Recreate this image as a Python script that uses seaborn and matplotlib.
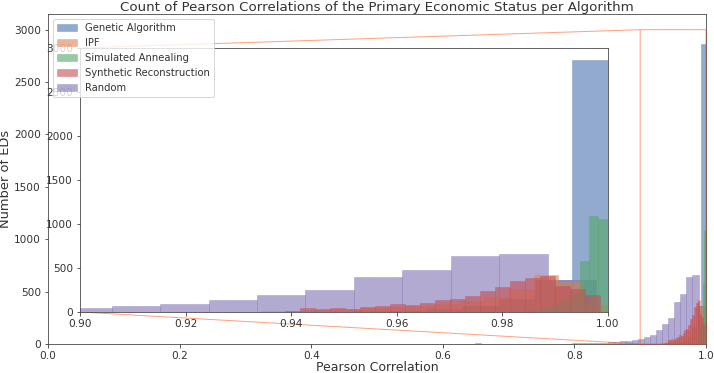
import numpy as np
import matplotlib.pyplot as plt
import seaborn as sns

# histogram bin edges / counts per algorithm
ga_edges = [0.9448, 0.9517, 0.9586, 0.9655, 0.9724, 0.9793, 0.9862, 0.9931, 1.0]
ga_counts = [4, 8, 15, 30, 70, 150, 360, 2864]

ipf_edges = [0.9295, 0.9342, 0.9389, 0.9436, 0.9483, 0.9530, 0.9577, 0.9624,
             0.9671, 0.9718, 0.9765, 0.9812, 0.9859, 0.9906, 0.9953, 1.0]
ipf_counts = [5, 10, 15, 22, 30, 40, 55, 70, 90, 120, 170, 260, 420, 350, 80]

sa_edges = [0.9841, 0.9859, 0.9876, 0.9894, 0.9912, 0.9929, 0.9947, 0.9965, 0.9982, 1.0]
sa_counts = [10, 20, 40, 80, 150, 200, 580, 1090, 1053]

sr_edges = [0.9360, 0.9388, 0.9417, 0.9445, 0.9473, 0.9502, 0.9530, 0.9559,
            0.9587, 0.9615, 0.9644, 0.9672, 0.9701, 0.9729, 0.9757, 0.9786,
            0.9814, 0.9843, 0.9871, 0.9899, 0.9928, 0.9956, 0.9985]
sr_counts = [5, 14, 42, 34, 45, 34, 53, 68, 87, 80, 102, 133, 148, 178, 242,
             280, 352, 390, 413, 290, 260, 190]

rand_edges = [0.6490, 0.6582, 0.6674, 0.6765, 0.6857, 0.6949, 0.7041, 0.7133,
              0.7224, 0.7316, 0.7408, 0.7500, 0.7592, 0.7683, 0.7775, 0.7867,
              0.7959, 0.8050, 0.8142, 0.8234, 0.8326, 0.8418, 0.8509, 0.8601,
              0.8693, 0.8785, 0.8876, 0.8968, 0.9060, 0.9152, 0.9244, 0.9335,
              0.9427, 0.9519, 0.9610, 0.9702, 0.9794, 0.9886, 0.9978]
rand_counts = [8, 0, 1, 0, 1, 0, 1, 1, 0, 2, 1, 2, 2, 3, 3, 4, 6, 7, 8, 10,
               12, 14, 16, 20, 26, 32, 38, 45, 63, 90, 138, 188, 250, 403,
               480, 640, 655, 362]

algorithms = ["Genetic Algorithm", "IPF", "Simulated Annealing",
              "Synthetic Reconstruction", "Random"]
series = {
    "Genetic Algorithm": (ga_edges, ga_counts),
    "IPF": (ipf_edges, ipf_counts),
    "Simulated Annealing": (sa_edges, sa_counts),
    "Synthetic Reconstruction": (sr_edges, sr_counts),
    "Random": (rand_edges, rand_counts),
}
palette = dict(zip(algorithms, sns.color_palette("deep", 5)))
draw_order = ["Random", "Genetic Algorithm", "IPF", "Simulated Annealing",
              "Synthetic Reconstruction"]

plt.rcParams["text.color"] = "0.2"
plt.rcParams["axes.labelcolor"] = "0.2"
plt.rcParams["xtick.color"] = "0.2"
plt.rcParams["ytick.color"] = "0.2"
plt.rcParams["axes.edgecolor"] = "0.25"
plt.rcParams["xtick.labelsize"] = 10.5
plt.rcParams["ytick.labelsize"] = 10.5


def draw_hists(ax, labels=True):
    for name in draw_order:
        edges, counts = series[name]
        e = np.array(edges)
        mids = (e[:-1] + e[1:]) / 2
        sns.histplot(x=mids, weights=counts, bins=list(edges), color=palette[name],
                     alpha=0.6, edgecolor=(*palette[name], 0.6), linewidth=0.5,
                     ax=ax, label=name if labels else None)


fig = plt.figure(figsize=(714 / 72, 373 / 72), dpi=72)
ax = fig.add_axes([0.0672, 0.0777, 0.9216, 0.8848])

draw_hists(ax)
ax.set_xlim(0, 1)
ax.set_ylim(0, 3150)
ax.set_title("Count of Pearson Correlations of the Primary Economic Status per Algorithm",
             fontsize=13.4, pad=3)
ax.set_xlabel("Pearson Correlation", fontsize=12.5, labelpad=0)
ax.set_ylabel("Number of EDs", fontsize=13, labelpad=2)

# zoomed inset on the top end of the range
axins = ax.inset_axes([0.0486, 0.097, 0.8024, 0.80])
draw_hists(axins, labels=False)
axins.set_xlim(0.9, 1.0)
axins.set_ylim(0, 3000)
axins.set_xlabel("")
axins.set_ylabel("")
ax.indicate_inset_zoom(axins, edgecolor="orangered")

handles, labels = ax.get_legend_handles_labels()
lookup = dict(zip(labels, handles))
ax.legend([lookup[a] for a in algorithms], algorithms, loc="upper left", fontsize=10)

fig.savefig("out.png", dpi=72)
